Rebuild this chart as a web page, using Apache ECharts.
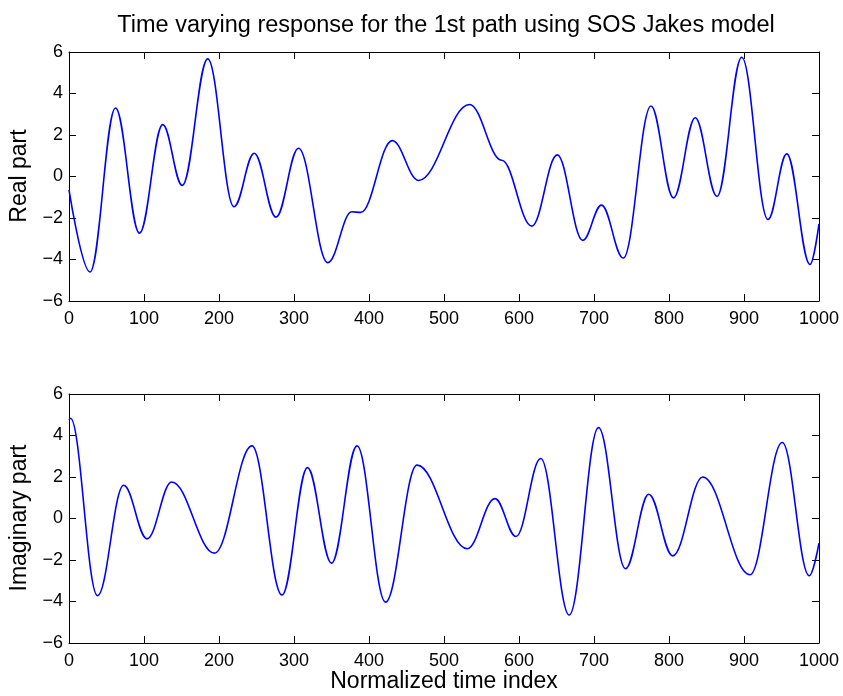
<!DOCTYPE html>
<html>
<head>
<meta charset="utf-8">
<script src="https://cdn.jsdelivr.net/npm/echarts@6/dist/echarts.min.js"></script>
<style>
  html, body { margin: 0; padding: 0; background: #fff; }
  #chart { width: 843px; height: 696px; }
</style>
</head>
<body>
<div id="chart"></div>
<script>
// values (turning points of each trace)
var realX = [0, 28, 62, 94, 125, 151, 185, 220, 247, 276, 306, 345, 377, 389, 431, 466, 534, 577, 617, 651, 685, 710, 739, 776, 806, 835, 864, 897, 932, 957, 988, 1000];
var realY = [-0.64, -4.6, 3.3, -2.73, 2.5, -0.43, 5.67, -1.46, 1.12, -1.96, 1.36, -4.15, -1.7, -1.73, 1.73, -0.19, 3.47, 0.78, -2.39, 1.04, -3.08, -1.38, -3.93, 3.4, -1.03, 2.83, -0.96, 5.75, -2.07, 1.09, -4.24, -2.28];

var imagX = [0, 2, 38, 73, 104, 137, 194, 244, 284, 318, 350, 384, 422, 464, 531, 568, 596, 629, 667, 706, 742, 773, 805, 845, 908, 951, 987, 1000];
var imagY = [4.75, 4.83, -3.72, 1.6, -0.98, 1.76, -1.67, 3.5, -3.69, 2.45, -2.15, 3.5, -4.03, 2.57, -1.46, 0.96, -0.87, 2.89, -4.65, 4.38, -2.42, 1.17, -1.8, 2.0, -2.71, 3.66, -2.76, -1.19];

var xTicks = [0, 1000, 100];
var yTicks = [-6, 6, 2];

var font = 'Liberation Sans, Arial, Helvetica, sans-serif';

function pairs(xs, ys) {
    return xs.map(function (x, i) { return [x, ys[i]]; });
}

function minusSign(v) {
    return String(v).replace('-', '\u2212');
}

function xAxisFor(grid, pos) {
    return {
        type: 'value', gridIndex: grid, position: pos,
        min: xTicks[0], max: xTicks[1], interval: xTicks[2],
        axisLine: { show: true, onZero: false, lineStyle: { color: '#000', width: 1 } },
        axisTick: { show: true, inside: true, length: 7, lineStyle: { color: '#000' } },
        axisLabel: { show: pos === 'bottom', color: '#000', fontSize: 18, fontFamily: font, margin: 9,
                     formatter: function (v) { return String(v); } },
        splitLine: { show: false }
    };
}

function yAxisFor(grid, pos) {
    return {
        type: 'value', gridIndex: grid, position: pos,
        min: yTicks[0], max: yTicks[1], interval: yTicks[2],
        axisLine: { show: true, onZero: false, lineStyle: { color: '#000', width: 1 } },
        axisTick: { show: true, inside: true, length: 7, lineStyle: { color: '#000' } },
        axisLabel: { show: pos === 'left', color: '#000', fontSize: 18, fontFamily: font, margin: 6, formatter: minusSign },
        splitLine: { show: false }
    };
}

function trace(data, idx) {
    return {
        type: 'line', xAxisIndex: idx * 2, yAxisIndex: idx * 2,
        data: data, showSymbol: false, symbol: 'none',
        smooth: 0.38, smoothMonotone: 'x',
        lineStyle: { color: '#0000ff', width: 1.6 }
    };
}

var myChart = echarts.init(document.getElementById('chart'));
myChart.setOption({
    animation: false,
    backgroundColor: '#fff',
    grid: [
        { left: 69, top: 52, width: 750, height: 249 },
        { left: 69, top: 394, width: 750, height: 249 }
    ],
    xAxis: [xAxisFor(0, 'bottom'), xAxisFor(0, 'top'), xAxisFor(1, 'bottom'), xAxisFor(1, 'top')],
    yAxis: [yAxisFor(0, 'left'), yAxisFor(0, 'right'), yAxisFor(1, 'left'), yAxisFor(1, 'right')],
    graphic: [
        { type: 'text', x: 446, y: 26, style: { text: 'Time varying response for the 1st path using SOS Jakes model', fill: '#000', font: '23.5px ' + font, align: 'center', verticalAlign: 'middle' } },
        { type: 'text', x: 20, y: 176, rotation: Math.PI / 2, style: { text: 'Real part', fill: '#000', font: '23px ' + font, align: 'center', verticalAlign: 'middle' } },
        { type: 'text', x: 20, y: 518, rotation: Math.PI / 2, style: { text: 'Imaginary part', fill: '#000', font: '23px ' + font, align: 'center', verticalAlign: 'middle' } },
        { type: 'text', x: 444, y: 682, style: { text: 'Normalized time index', fill: '#000', font: '23px ' + font, align: 'center', verticalAlign: 'middle' } }
    ],
    series: [trace(pairs(realX, realY), 0), trace(pairs(imagX, imagY), 1)]
});
</script>
</body>
</html>
